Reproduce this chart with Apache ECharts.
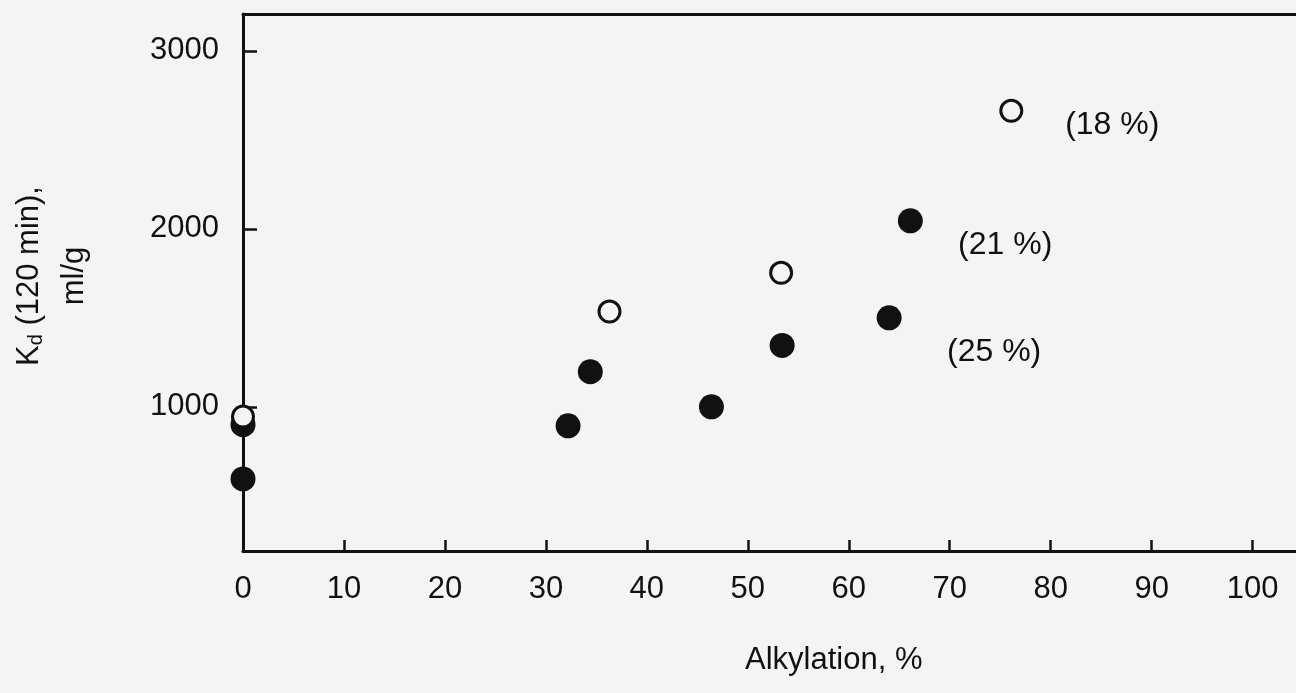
<!DOCTYPE html>
<html>
<head>
<meta charset="utf-8">
<script src="https://cdn.jsdelivr.net/npm/echarts@6/dist/echarts.min.js"></script>
<style>
  html, body { margin: 0; padding: 0; background: #f4f4f4; }
  #chart { width: 1296px; height: 693px; }
</style>
</head>
<body>
<div id="chart"></div>
<script>
// values
const filledPoints = [[0, 900], [0, 595], [32.2, 893], [34.4, 1197], [46.4, 1000], [53.4, 1345], [64, 1500], [66.1, 2045]]
const openPoints = [[0, 945], [36.3, 1535], [53.3, 1753], [76.1, 2663]]
const notes = [[86.1, 2584, '(18 %)'], [75.5, 1910, '(21 %)'], [74.4, 1309, '(25 %)']]
const xTicks = [0, 10, 20, 30, 40, 50, 60, 70, 80, 90, 100]
const yTicks = [1000, 2000, 3000]

const ink = '#111'
const font = 'Liberation Sans, Arial, sans-serif'

let chart = echarts.init(document.getElementById('chart'))
let option = {
  backgroundColor: '#f4f4f4',
  animation: false,
  grid: { left: 243, top: 14, right: 0, bottom: 142 },
  xAxis: [
    {
      type: 'value',
      min: 0,
      max: 104.3,
      splitLine: { show: false },
      axisLine: { lineStyle: { color: ink, width: 3 } },
      axisTick: { inside: true, length: 11, customValues: xTicks, lineStyle: { color: ink, width: 2.5 } },
      axisLabel: { customValues: xTicks, color: ink, fontSize: 31, fontFamily: font, margin: 23 }
    },
    {
      type: 'value',
      position: 'top',
      min: 0,
      max: 104.3,
      splitLine: { show: false },
      axisLine: { lineStyle: { color: ink, width: 3 } },
      axisTick: { show: false },
      axisLabel: { show: false }
    }
  ],
  yAxis: {
    type: 'value',
    min: 190,
    max: 3207,
    splitLine: { show: false },
    axisLine: { lineStyle: { color: ink, width: 3 } },
    axisTick: { inside: true, length: 14, customValues: yTicks, lineStyle: { color: ink, width: 2.5 } },
    axisLabel: {
      customValues: yTicks,
      formatter: v => String(v),
      color: ink,
      fontSize: 31,
      fontFamily: font,
      margin: 24
    }
  },
  graphic: [
    {
      type: 'text',
      left: 745,
      top: 645,
      style: { text: 'Alkylation, %', fill: ink, font: '31px ' + font }
    },
    {
      type: 'text',
      x: 52,
      y: 276,
      rotation: Math.PI / 2,
      style: {
        text: '{k|K}{s|d}{k| (120 min),}\n{k|ml/g}',
        fill: ink,
        align: 'center',
        verticalAlign: 'middle',
        rich: {
          k: { fontSize: 31, fontFamily: font, fill: ink, lineHeight: 45 },
          s: { fontSize: 20, fontFamily: font, fill: ink, lineHeight: 45, padding: [14, 0, 0, 0] }
        }
      }
    }
  ],
  series: [
    {
      type: 'scatter',
      data: filledPoints,
      symbolSize: 25,
      itemStyle: { color: ink, opacity: 1 },
      z: 3
    },
    {
      type: 'scatter',
      data: openPoints,
      symbolSize: 21,
      itemStyle: { color: '#f4f4f4', borderColor: ink, borderWidth: 3, opacity: 1 },
      z: 4
    },
    {
      type: 'scatter',
      data: notes,
      symbolSize: 0,
      silent: true,
      itemStyle: { opacity: 1 },
      label: {
        show: true,
        position: 'inside',
        formatter: p => p.data[2],
        color: ink,
        opacity: 1,
        fontSize: 32,
        fontFamily: font
      }
    }
  ]
}
chart.setOption(option)
window.addEventListener('resize', () => chart.resize())
</script>
</body>
</html>
